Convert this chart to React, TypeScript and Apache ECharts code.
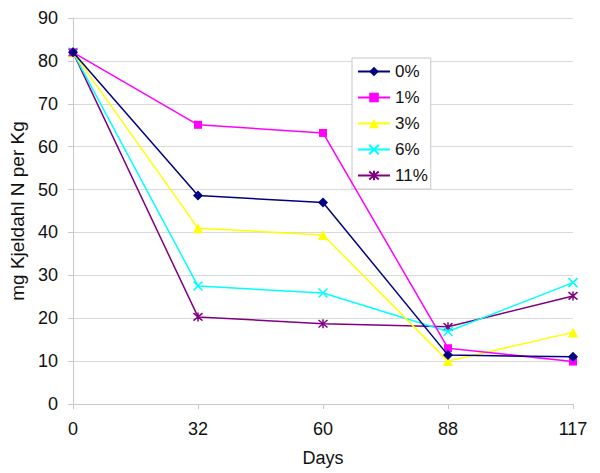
import React, { useEffect, useRef } from "react";
import * as echarts from "echarts";

const days = ["0", "32", "60", "88", "117"];
const seriesNames = ["0%", "1%", "3%", "6%", "11%"];
const s0 = [82, 48.6, 47.0, 11.4, 11.0];
const s1 = [82, 65.1, 63.2, 13.0, 9.9];
const s3 = [82, 41.0, 39.4, 10.0, 16.7];
const s6 = [82, 27.5, 25.9, 16.9, 28.3];
const s11 = [82, 20.3, 18.7, 18.0, 25.2];
const seriesData = [s0, s1, s3, s6, s11];
const colors = ["#000080", "#FF00FF", "#FFFF00", "#00FFFF", "#800080"];
const symbols = [
  "diamond",
  "rect",
  "triangle",
  "path://M0,0L10,10M10,0L0,10",
  "path://M0,0L10,10M10,0L0,10M5,-1L5,11",
];
const symbolSizes = [10, 8, 10, 9, 9];

const FONT = "'Liberation Sans', Arial, sans-serif";

export default function App() {
  const ref = useRef<HTMLDivElement>(null);
  useEffect(() => {
    if (!ref.current) return;
    const chart = echarts.init(ref.current, null, { renderer: "svg" });
    chart.setOption({
      animation: false,
      backgroundColor: "#ffffff",
      textStyle: { fontFamily: FONT },
      grid: { left: 73, right: 27, top: 18, bottom: 69, containLabel: false },
      legend: {
        orient: "vertical",
        left: 352,
        top: 58,
        padding: [5, 3, 5, 5],
        itemGap: 9,
        itemWidth: 32,
        itemHeight: 12,
        borderColor: "#c8c8c8",
        borderWidth: 1,
        backgroundColor: "#ffffff",
        textStyle: { fontSize: 17, color: "#111", fontFamily: FONT },
        data: seriesNames,
      },
      xAxis: {
        type: "category",
        data: days,
        boundaryGap: false,
        name: "Days",
        nameLocation: "middle",
        nameGap: 45,
        nameTextStyle: { fontSize: 18, color: "#111", fontFamily: FONT },
        axisLine: { lineStyle: { color: "#c8c8c8", width: 1 } },
        axisTick: { show: true, length: 5, lineStyle: { color: "#c8c8c8" } },
        axisLabel: { fontSize: 18, color: "#111", margin: 16, fontFamily: FONT },
        splitLine: { show: false },
      },
      yAxis: {
        type: "value",
        min: 0,
        max: 90,
        interval: 10,
        name: "mg Kjeldahl N per Kg",
        nameLocation: "middle",
        nameGap: 42,
        nameTextStyle: { fontSize: 19, color: "#111", fontFamily: FONT },
        axisLine: { show: true, lineStyle: { color: "#c8c8c8", width: 1 } },
        axisTick: { show: true, length: 5, lineStyle: { color: "#c8c8c8" } },
        axisLabel: { fontSize: 18, color: "#111", margin: 15, fontFamily: FONT },
        splitLine: { show: true, lineStyle: { color: "#d9d9d9", width: 1 } },
      },
      series: seriesNames.map((name, i) => ({
        name,
        type: "line",
        data: seriesData[i],
        symbol: symbols[i],
        symbolSize: symbolSizes[i],
        showAllSymbol: true,
        lineStyle: { color: colors[i], width: 1.5 },
        itemStyle: {
          color: colors[i],
          borderColor: colors[i],
          borderWidth: i >= 3 ? 1.5 : 0,
        },
        emphasis: { disabled: true },
        z: 10 - i,
      })),
    });
    return () => chart.dispose();
  }, []);
  return (
    <div
      ref={ref}
      style={{ position: "fixed", left: 0, top: 0, width: 600, height: 473 }}
    />
  );
}
